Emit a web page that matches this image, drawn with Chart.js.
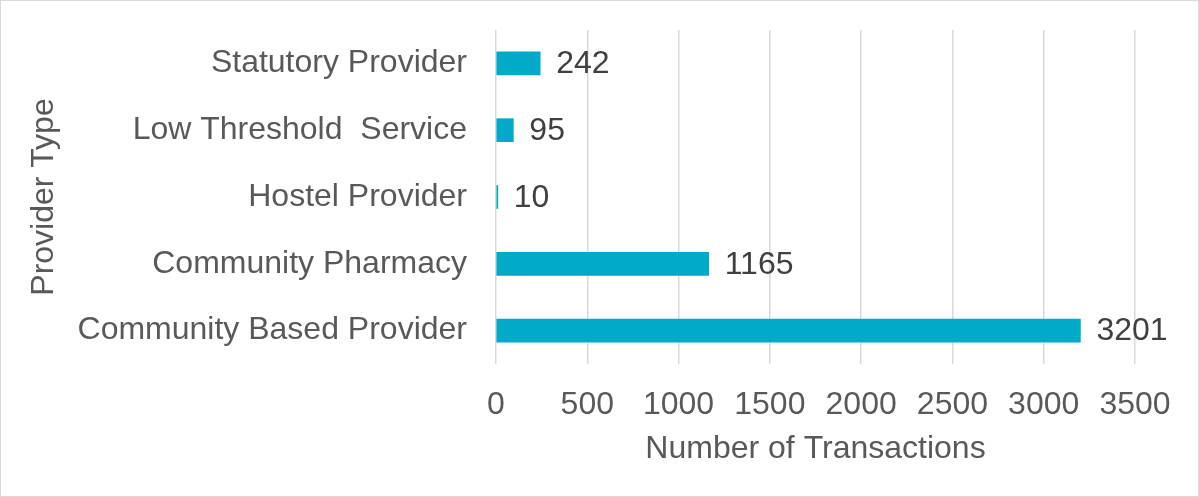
<!DOCTYPE html>
<html>
<head>
<meta charset="utf-8">
<script src="https://cdn.jsdelivr.net/npm/chart.js@4"></script>
<style>
  html, body { margin: 0; padding: 0; background: #fff; }
  #wrap { position: relative; width: 1199px; height: 497px; }
  #frame { position: absolute; left: 0; top: 0; width: 1197px; height: 495px; border: 1px solid #d9d9d9; pointer-events: none; }
</style>
</head>
<body>
<div id="wrap">
  <canvas id="chart" width="1199" height="497"></canvas>
  <div id="frame"></div>
</div>
<script>
const providerTypes = ['Statutory Provider', 'Low Threshold  Service', 'Hostel Provider', 'Community Pharmacy', 'Community Based Provider'];
const transactions = [242, 95, 10, 1165, 3201];
const xTicks = [0, 500, 1000, 1500, 2000, 2500, 3000, 3500];

const fontFamily = '"Liberation Sans", Arial, sans-serif';

// draw the value next to each bar
const valueLabels = {
    id: 'valueLabels',
    afterDatasetsDraw(chart) {
        const ctx = chart.ctx;
        const meta = chart.getDatasetMeta(0);
        ctx.save();
        ctx.font = '32px ' + fontFamily;
        ctx.fillStyle = '#404040';
        ctx.textAlign = 'left';
        ctx.textBaseline = 'middle';
        meta.data.forEach((bar, i) => {
            ctx.fillText(String(transactions[i]), bar.x + 16, bar.y + 1);
        });
        ctx.restore();
    }
};

new Chart(document.getElementById('chart'), {
    type: 'bar',
    data: {
        labels: providerTypes,
        datasets: [{
            data: transactions,
            backgroundColor: '#00AAC8',
            borderWidth: 0,
            barThickness: 23
        }]
    },
    options: {
        indexAxis: 'y',
        responsive: false,
        animation: false,
        layout: { padding: { top: 30, right: 64, left: 0, bottom: 0 } },
        plugins: {
            legend: { display: false },
            tooltip: { enabled: false }
        },
        scales: {
            x: {
                min: 0,
                max: 3500,
                afterFit(scale) {
                    scale.height = 133;
                    scale.paddingLeft = 0;
                    scale.paddingRight = 0;
                },
                afterBuildTicks(scale) { scale.ticks = xTicks.map(v => ({ value: v })); },
                grid: { color: '#D9D9D9', lineWidth: 1.5, drawTicks: false },
                border: { display: false },
                ticks: {
                    padding: 22,
                    color: '#595959',
                    font: { size: 32, family: fontFamily },
                    callback: (value) => String(value)
                },
                title: {
                    display: true,
                    text: 'Number of Transactions',
                    color: '#595959',
                    font: { size: 32, family: fontFamily },
                    padding: { top: 0, bottom: 29 }
                }
            },
            y: {
                afterFit(scale) {
                    scale.width = 496;
                    scale.paddingTop = 0;
                    scale.paddingBottom = 0;
                },
                grid: { display: false, drawTicks: false },
                border: { display: false },
                ticks: {
                    padding: 29,
                    color: '#595959',
                    font: { size: 32, family: fontFamily }
                },
                title: {
                    display: true,
                    text: 'Provider Type',
                    color: '#595959',
                    font: { size: 32, family: fontFamily },
                    padding: { top: 25, bottom: 0 }
                }
            }
        }
    },
    plugins: [valueLabels]
});
</script>
</body>
</html>
